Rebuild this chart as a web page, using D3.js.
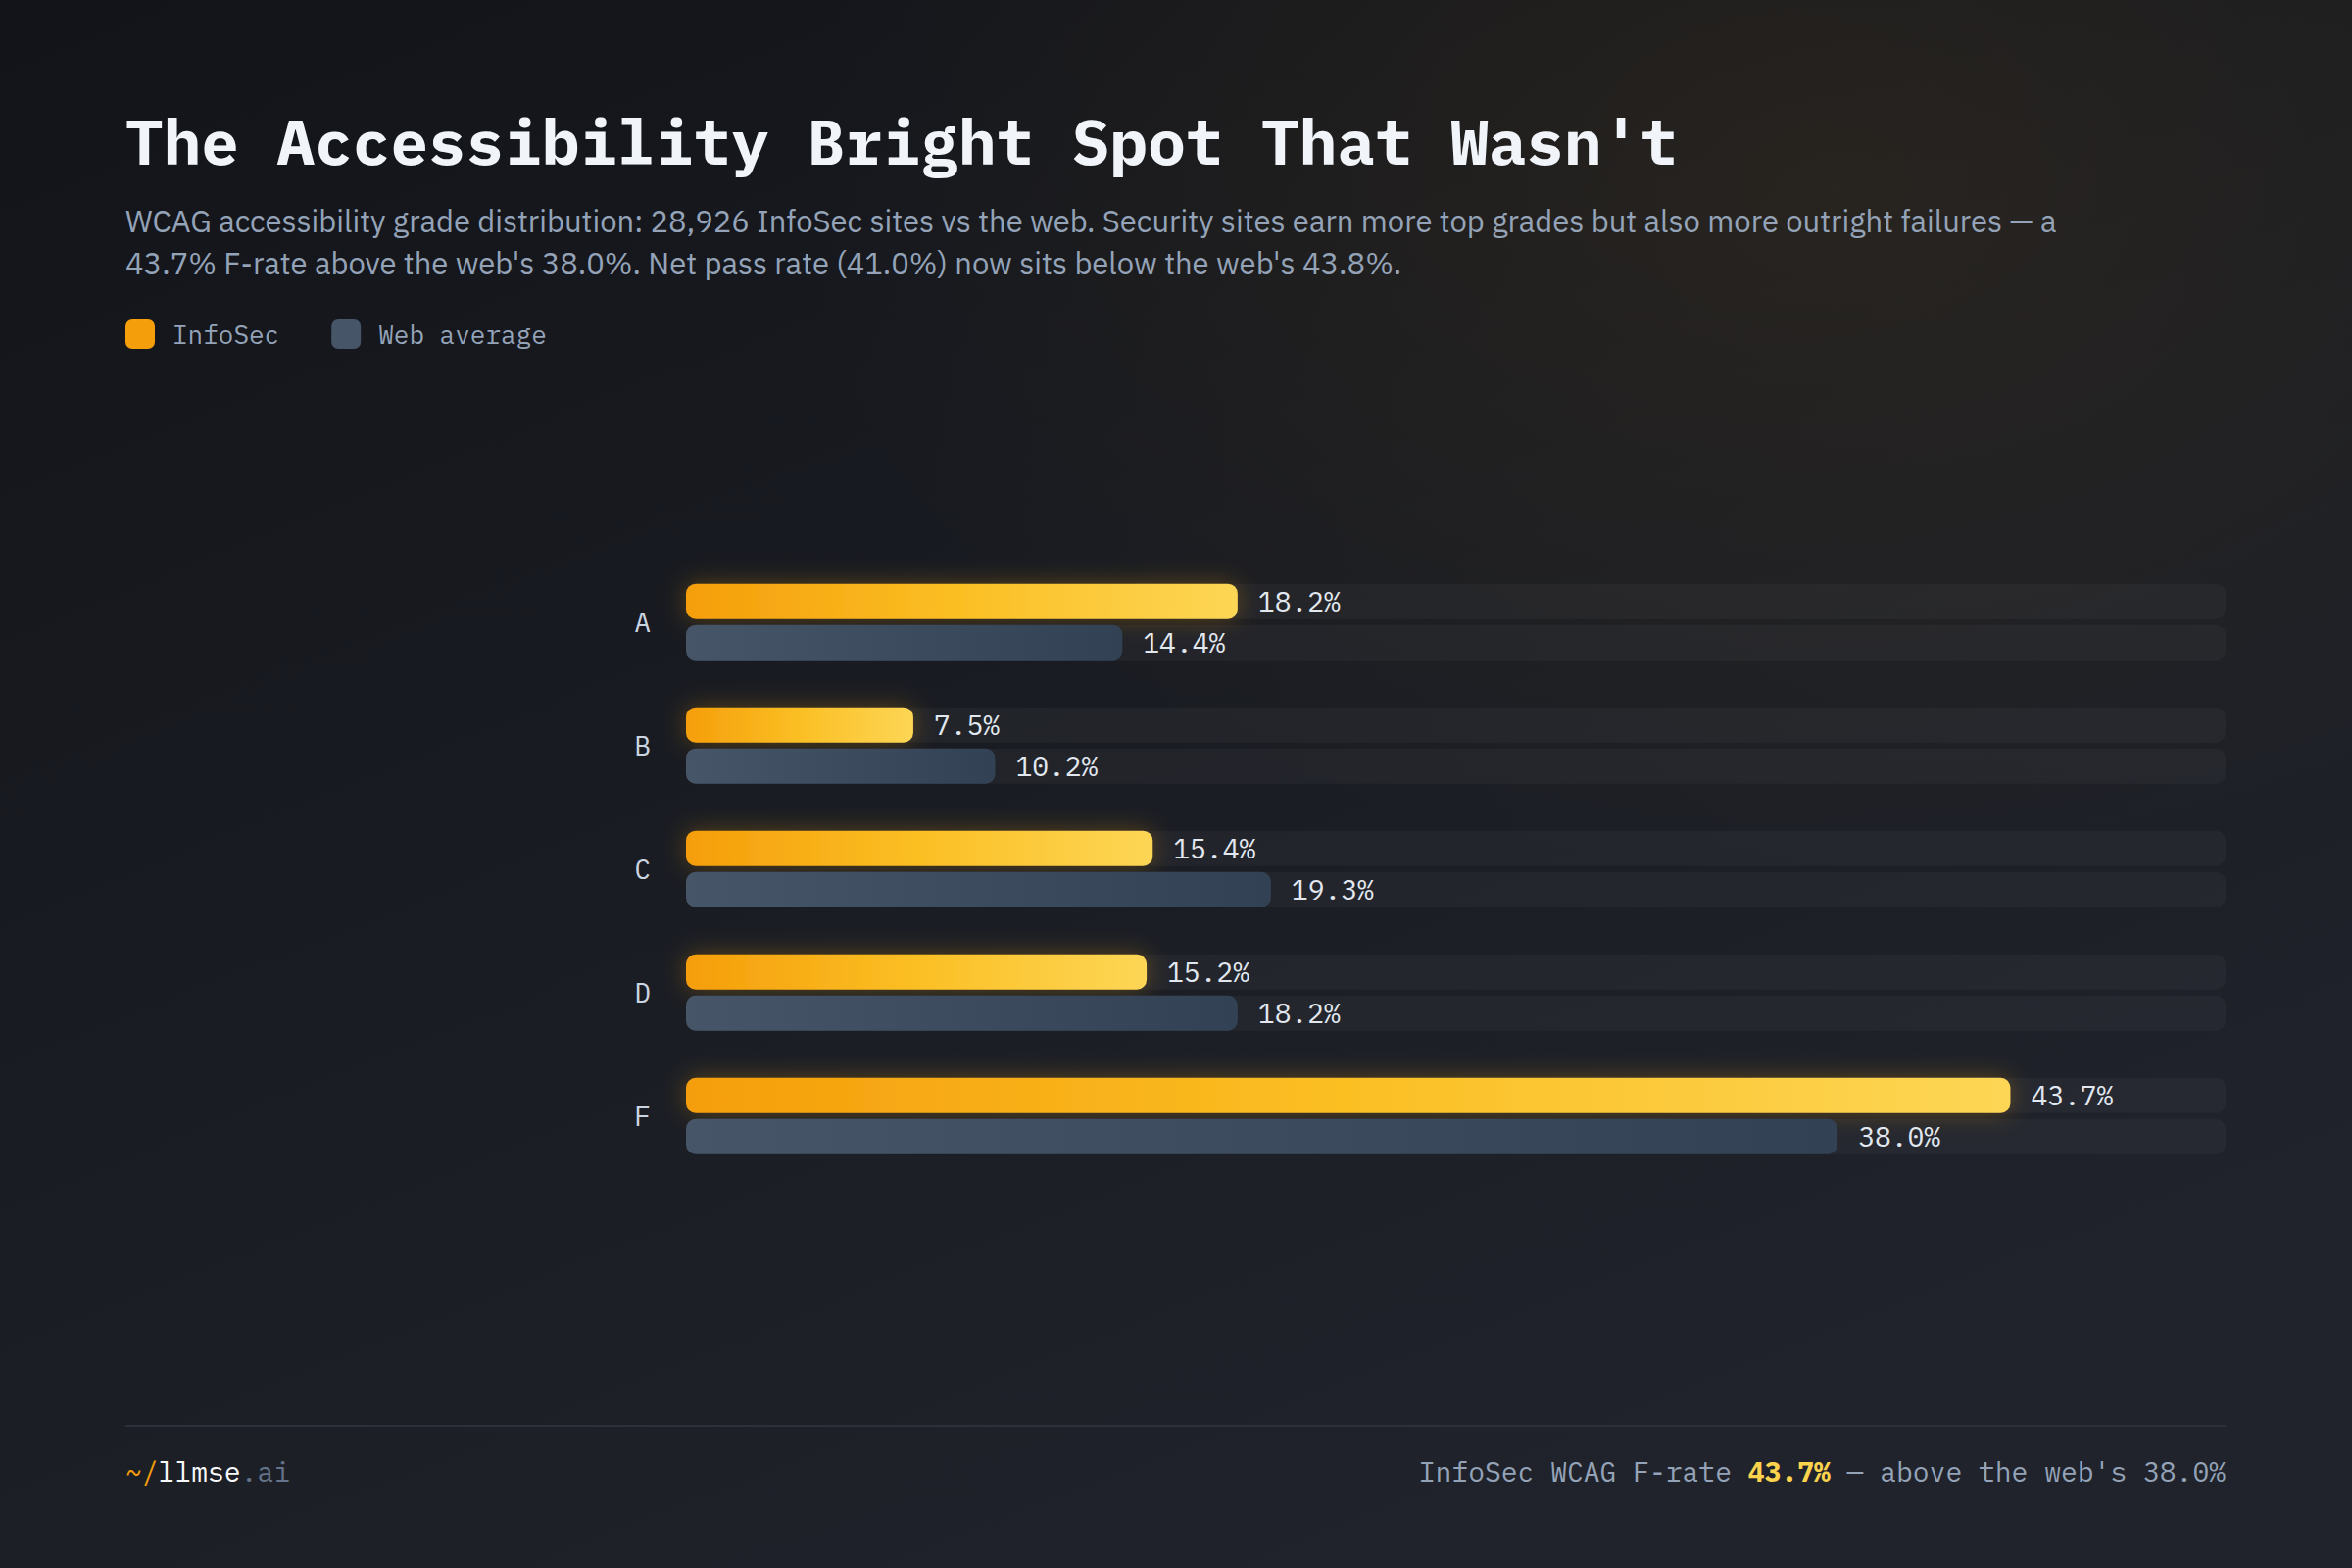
<!DOCTYPE html>
<html>
<head>
<meta charset="utf-8">
<script src="https://cdn.jsdelivr.net/npm/d3@7"></script>
<style>
  html, body { margin: 0; padding: 0; background: #15171c; }
  svg { display: block; }
</style>
</head>
<body>
<div id="chart"></div>
<script>
// --- data ---
const grades = ["A", "B", "C", "D", "F"];
const infosec = [18.2, 7.5, 15.4, 15.2, 43.7];
const webAvg = [14.4, 10.2, 19.3, 18.2, 38.0];
const seriesNames = ["InfoSec", "Web average"];
const xMax = 50.8;

const titleText = "The Accessibility Bright Spot That Wasn't";
const subtitleLines = [
    "WCAG accessibility grade distribution: 28,926 InfoSec sites vs the web. Security sites earn more top grades but also more outright failures \u2014 a",
    "43.7% F-rate above the web's 38.0%. Net pass rate (41.0%) now sits below the web's 43.8%."
];

const width = 2400;
const height = 1600;
const left = 128;
const right = 2271;
const mono = "'IBM Plex Mono', 'DejaVu Sans Mono', monospace";
const sans = "'IBM Plex Sans', Roboto, 'Noto Sans', sans-serif";

const rows = grades.map((g, i) => ({ grade: g, values: [infosec[i], webAvg[i]] }));

const svg = d3.select("#chart")
    .append("svg")
    .attr("width", width)
    .attr("height", height);

const defs = svg.append("defs");

// background
const bg = defs.append("linearGradient")
    .attr("id", "bg")
    .attr("x1", 0).attr("y1", 0).attr("x2", 0.6).attr("y2", 1);
bg.append("stop").attr("offset", "0%").attr("stop-color", "#121419");
bg.append("stop").attr("offset", "100%").attr("stop-color", "#20232b");

const warm = defs.append("radialGradient")
    .attr("id", "warm")
    .attr("cx", "78%").attr("cy", "12%").attr("r", "45%");
warm.append("stop").attr("offset", "0%").attr("stop-color", "#f59e0b").attr("stop-opacity", 0.07);
warm.append("stop").attr("offset", "100%").attr("stop-color", "#f59e0b").attr("stop-opacity", 0);

// bar fills
const amber = defs.append("linearGradient").attr("id", "amber");
amber.append("stop").attr("offset", "0%").attr("stop-color", "#f59e0b");
amber.append("stop").attr("offset", "50%").attr("stop-color", "#fbbf24");
amber.append("stop").attr("offset", "100%").attr("stop-color", "#fdd655");

const slate = defs.append("linearGradient").attr("id", "slate");
slate.append("stop").attr("offset", "0%").attr("stop-color", "#475569");
slate.append("stop").attr("offset", "100%").attr("stop-color", "#334155");

// glow under the InfoSec bars
const glow = defs.append("filter")
    .attr("id", "glow")
    .attr("x", "-10%").attr("y", "-120%")
    .attr("width", "120%").attr("height", "340%");
glow.append("feGaussianBlur")
    .attr("in", "SourceAlpha")
    .attr("stdDeviation", 12)
    .attr("result", "blur");
glow.append("feFlood")
    .attr("flood-color", "#f59e0b")
    .attr("flood-opacity", 0.3);
glow.append("feComposite")
    .attr("in2", "blur")
    .attr("operator", "in")
    .attr("result", "halo");
const merge = glow.append("feMerge");
merge.append("feMergeNode").attr("in", "halo");
merge.append("feMergeNode").attr("in", "SourceGraphic");

svg.append("rect").attr("width", width).attr("height", height).attr("fill", "url(#bg)");
svg.append("rect").attr("width", width).attr("height", height).attr("fill", "url(#warm)");

// --- heading ---
svg.append("text")
    .attr("x", left)
    .attr("y", 168)
    .style("font", `bold 64.4px ${mono}`)
    .attr("fill", "#f1f5f9")
    .text(titleText);

svg.append("g")
    .selectAll("text")
    .data(subtitleLines)
    .enter()
    .append("text")
    .attr("x", left)
    .attr("y", (d, i) => 237 + i * 43)
    .style("font", `31px ${sans}`)
    .attr("fill", "#94a3b8")
    .text(d => d);

// --- legend ---
const legend = svg.append("g").attr("transform", "translate(" + left + ",326)");
let lx = 0;
seriesNames.forEach((name, i) => {
    const item = legend.append("g").attr("transform", `translate(${lx},0)`);
    item.append("rect")
        .attr("width", 30).attr("height", 30).attr("rx", 7)
        .attr("fill", i === 0 ? "#f59e0b" : "#475569");
    const t = item.append("text")
        .attr("x", 48)
        .attr("y", 25)
        .style("font", `26px ${mono}`)
        .attr("fill", "#94a3b8")
        .text(name);
    lx += 48 + t.node().getComputedTextLength() + 53;
});

// --- scales ---
const x = d3.scaleLinear().domain([0, xMax]).range([700, right]);

const y = d3.scaleBand()
    .domain(grades)
    .range([571.7, 1201.7])
    .paddingInner(0.381)
    .paddingOuter(0.19);

const ySub = d3.scaleBand()
    .domain([0, 1])
    .range([0, y.bandwidth()])
    .paddingInner(0.143);

const barH = ySub.bandwidth();
const rad = 10;

const group = svg.append("g")
    .selectAll("g")
    .data(rows)
    .enter()
    .append("g")
    .attr("transform", d => `translate(0,${y(d.grade)})`);

// tracks
group.selectAll(".track")
    .data(d => d.values)
    .enter()
    .append("rect")
    .attr("class", "track")
    .attr("x", x(0))
    .attr("y", (d, i) => ySub(i))
    .attr("width", x(xMax) - x(0))
    .attr("height", barH)
    .attr("rx", rad)
    .attr("fill", "rgba(255,255,255,0.035)");

// InfoSec bars (glowing)
group.append("rect")
    .attr("x", x(0))
    .attr("y", ySub(0))
    .attr("width", d => x(d.values[0]) - x(0))
    .attr("height", barH)
    .attr("rx", rad)
    .attr("fill", "url(#amber)")
    .attr("filter", "url(#glow)");

// Web average bars
group.append("rect")
    .attr("x", x(0))
    .attr("y", ySub(1))
    .attr("width", d => x(d.values[1]) - x(0))
    .attr("height", barH)
    .attr("rx", rad)
    .attr("fill", "url(#slate)");

// value labels
group.selectAll(".val")
    .data(d => d.values)
    .enter()
    .append("text")
    .attr("class", "val")
    .attr("x", d => x(d) + 21)
    .attr("y", (d, i) => ySub(i) + barH / 2)
    .attr("dy", "0.36em")
    .style("font", `28px ${mono}`)
    .attr("fill", "#e2e8f0")
    .text(d => d.toFixed(1) + "%");

// grade labels
group.append("text")
    .attr("x", 664)
    .attr("y", y.bandwidth() / 2)
    .attr("dy", "0.36em")
    .attr("text-anchor", "end")
    .style("font", `28px ${mono}`)
    .attr("fill", "#cbd5e1")
    .text(d => d.grade);

// --- footer ---
svg.append("line")
    .attr("x1", left).attr("x2", right)
    .attr("y1", 1455).attr("y2", 1455)
    .attr("stroke", "#2b303b")
    .attr("stroke-width", 2);

const brand = svg.append("text")
    .attr("x", left)
    .attr("y", 1512)
    .style("font", `28px ${mono}`);
brand.append("tspan").attr("fill", "#f59e0b").text("~/");
brand.append("tspan").attr("fill", "#f8fafc").text("llmse");
brand.append("tspan").attr("fill", "#64748b").text(".ai");

const note = svg.append("text")
    .attr("x", right)
    .attr("y", 1512)
    .attr("text-anchor", "end")
    .style("font", `28px ${mono}`)
    .attr("fill", "#94a3b8");
note.append("tspan").text("InfoSec WCAG F-rate ");
note.append("tspan").attr("fill", "#fcd34d").attr("font-weight", "bold")
    .text(infosec[4].toFixed(1) + "%");
note.append("tspan").text(" \u2014 above the web's " + webAvg[4].toFixed(1) + "%");
</script>
</body>
</html>
